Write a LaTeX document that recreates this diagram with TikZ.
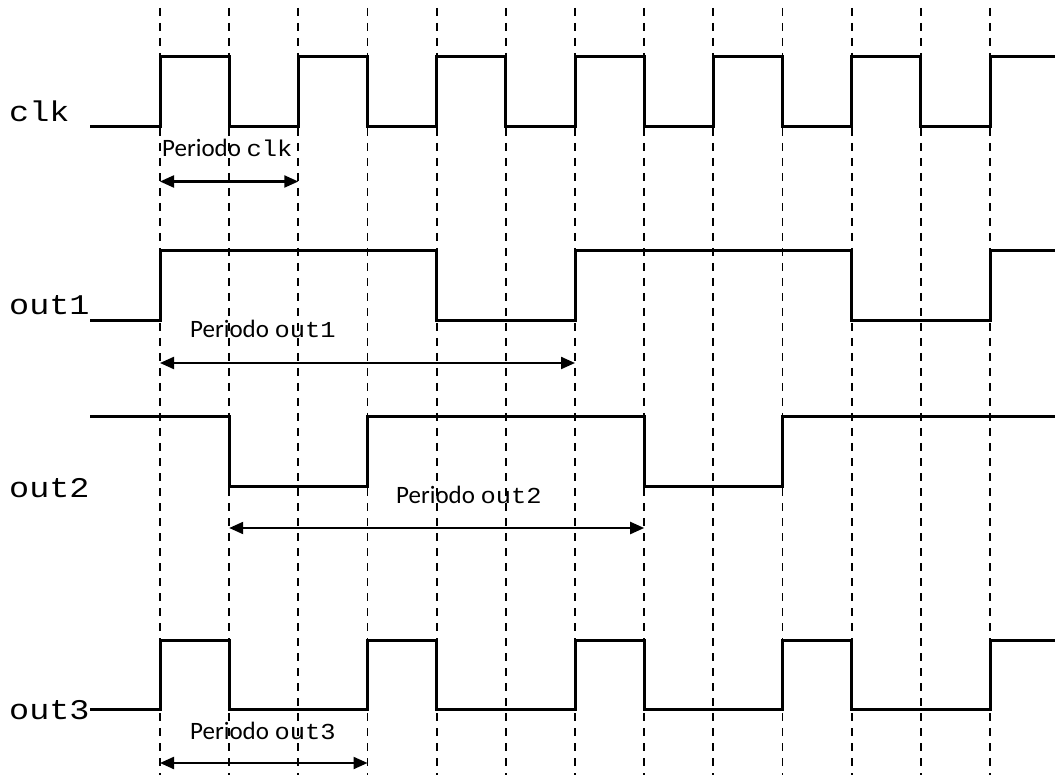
\documentclass[tikz,border=0pt]{standalone}
\usepackage{fontspec}
\setmainfont{Carlito}
\newfontfamily\monof{Liberation Mono}
\usetikzlibrary{arrows.meta}
\newcommand{\bigmono}[1]{\scalebox{1.08}[0.92]{\monof\fontsize{31}{31}\selectfont #1}}
\newcommand{\smallmono}[1]{\scalebox{1.06}[0.95]{\monof\fontsize{24}{24}\selectfont #1}}
\begin{document}
\begin{tikzpicture}[x=1pt,y=-1pt,
  sig/.style={line width=3pt, line join=miter},
  gridline/.style={line width=1.8pt, dash pattern=on 8pt off 7pt},
  per/.style={line width=2.2pt, {Triangle[length=14pt,width=12pt]}-{Triangle[length=14pt,width=12pt]}},
  lab/.style={anchor=base west, inner sep=0pt},
  plab/.style={anchor=base west, inner sep=0pt, font=\fontsize{25}{25}\selectfont}]
\useasboundingbox (0,0) rectangle (1055,775);
\fill[white] (0,0) rectangle (1055,775);
% grid
\foreach \xx in {160,229.2,298.3,367.5,436.7,505.8,575,644.2,713.3,782.5,851.7,920.8,990}
  \draw[gridline] (\xx,8) -- (\xx,775);
% clk
\draw[sig] (90,127) -- (160,127) -- (160,57) -- (229.2,57) -- (229.2,127) -- (298.3,127) -- (298.3,57) -- (367.5,57) -- (367.5,127) -- (436.7,127) -- (436.7,57) -- (505.8,57) -- (505.8,127) -- (575,127) -- (575,57) -- (644.2,57) -- (644.2,127) -- (713.3,127) -- (713.3,57) -- (782.5,57) -- (782.5,127) -- (851.7,127) -- (851.7,57) -- (920.8,57) -- (920.8,127) -- (990,127) -- (990,57) -- (1055,57);
% out1
\draw[sig] (90,320.5) -- (160,320.5) -- (160,251) -- (436.7,251) -- (436.7,320.5) -- (575,320.5) -- (575,251) -- (851.7,251) -- (851.7,320.5) -- (990,320.5) -- (990,251) -- (1055,251);
% out2
\draw[sig] (90,417) -- (229.2,417) -- (229.2,486) -- (367.5,486) -- (367.5,417) -- (644.2,417) -- (644.2,486) -- (782.5,486) -- (782.5,417) -- (1055,417);
% out3
\draw[sig] (90,709.5) -- (160,709.5) -- (160,640) -- (229.2,640) -- (229.2,709.5) -- (367.5,709.5) -- (367.5,640) -- (436.7,640) -- (436.7,709.5) -- (575,709.5) -- (575,640) -- (644.2,640) -- (644.2,709.5) -- (782.5,709.5) -- (782.5,640) -- (851.7,640) -- (851.7,709.5) -- (990,709.5) -- (990,640) -- (1055,640);
% signal labels
\node[lab] (lclk) at (9,122) {\bigmono{clk}};
\node[lab] (lout1) at (9,315) {\bigmono{out1}};
\node[lab] (lout2) at (9,497) {\bigmono{out2}};
\node[lab] (lout3) at (9,719.5) {\bigmono{out3}};
% period labels
\node[plab] (pclk) at (162,157) {Periodo \smallmono{clk}};
\node[plab] (pout1) at (190,338) {Periodo \smallmono{out1}};
\node[plab] (pout2) at (396,503.5) {Periodo \smallmono{out2}};
\node[plab] (pout3) at (190,739) {Periodo \smallmono{out3}};
% period arrows
\coordinate (a1s) at (160,181.5); \coordinate (a1e) at (298.3,181.5);
\coordinate (a2s) at (160,363);   \coordinate (a2e) at (575,363);
\coordinate (a3s) at (229.2,528); \coordinate (a3e) at (644.2,528);
\coordinate (a4s) at (160,763);   \coordinate (a4e) at (367.5,763);
\draw[per] (a1s) -- (a1e);
\draw[per] (a2s) -- (a2e);
\draw[per] (a3s) -- (a3e);
\draw[per] (a4s) -- (a4e);
\end{tikzpicture}
\end{document}
